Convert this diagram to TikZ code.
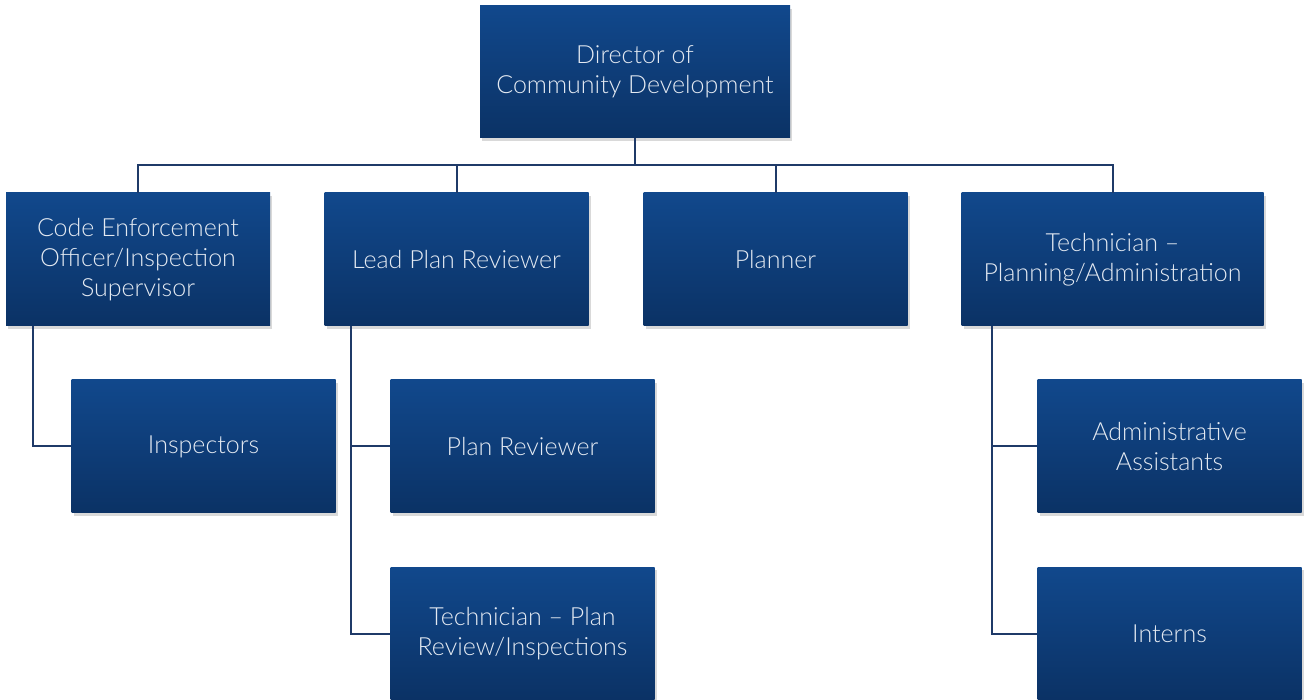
\documentclass[tikz,border=0pt]{standalone}
\usepackage{fontspec}
\setmainfont{Lato Light}
\usetikzlibrary{positioning, shadows}

\definecolor{boxtop}{RGB}{17,72,140}
\definecolor{boxbot}{RGB}{11,50,101}
\definecolor{linkcol}{RGB}{31,58,104}
\definecolor{textcol}{RGB}{228,234,242}

\tikzset{
  orgbox/.style={rectangle, minimum width=264pt, minimum height=133pt, align=center,
    top color=boxtop, bottom color=boxbot, text=textcol, inner sep=0pt,
    font=\fontsize{25}{30}\selectfont,
    drop shadow={shadow xshift=2pt, shadow yshift=-3pt, opacity=0.25, fill=black!60}},
  link/.style={draw=linkcol, line width=2pt}
}

\begin{document}
\begin{tikzpicture}[x=1pt, y=-1pt]
    \useasboundingbox (0,0) rectangle (1310,700);
    % top level
    \node (director) [orgbox, minimum width=310pt, minimum height=132pt] at (635,72) {Director of\\Community Development};
    % second level
    \node (codeoff) [orgbox] at (138,259.5) {Code Enforcement\\Officer/Inspection\\Supervisor};
    \node (leadrev) [orgbox] at (456.5,259.5) {Lead Plan Reviewer};
    \node (planner) [orgbox] at (775.5,259.5) {Planner};
    \node (techadm) [orgbox, minimum width=302pt] at (1112.5,259.5) {Technician --\\Planning/Administration};
    % third level
    \node (inspect) [orgbox] at (203.5,446.5) {Inspectors};
    \node (planrev) [orgbox] at (522.5,446.5) {Plan Reviewer};
    \node (techrev) [orgbox] at (522.5,633.5) {Technician -- Plan\\Review/Inspections};
    \node (adminas) [orgbox] at (1169.5,446.5) {Administrative\\Assistants};
    \node (interns) [orgbox] at (1169.5,633.5) {Interns};

    \coordinate (bus) at (0,165);
    \draw [link] (director.south) -- (director.south |- bus) -| (codeoff.north);
    \draw [link] (director.south |- bus) -| (leadrev.north);
    \draw [link] (director.south |- bus) -| (planner.north);
    \draw [link] (director.south |- bus) -| (techadm.north);

    \draw [link] ([xshift=27pt]codeoff.south west) |- (inspect.west);
    \draw [link] ([xshift=27pt]leadrev.south west) |- (planrev.west);
    \draw [link] ([xshift=27pt]leadrev.south west) |- (techrev.west);
    \draw [link] ([xshift=31pt]techadm.south west) |- (adminas.west);
    \draw [link] ([xshift=31pt]techadm.south west) |- (interns.west);
\end{tikzpicture}
\end{document}
